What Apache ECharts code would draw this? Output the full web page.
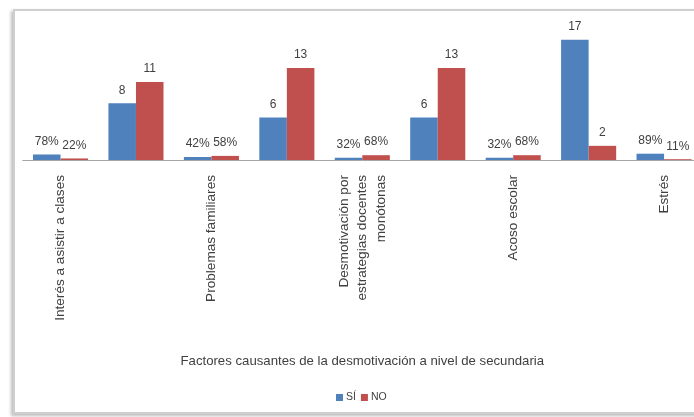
<!DOCTYPE html>
<html>
<head>
<meta charset="utf-8">
<script src="https://cdn.jsdelivr.net/npm/echarts@6/dist/echarts.min.js"></script>
<style>
html,body{margin:0;padding:0;background:#fff;width:694px;height:417px;overflow:hidden;}
#frame{position:absolute;left:13px;top:9px;width:720px;height:401px;border:2px solid #cfcfcf;box-shadow:-2px 2px 3px #bdbdbd;background:#fff;}
#chart{position:absolute;left:0;top:0;width:730px;height:417px;}
</style>
</head>
<body>
<div id="frame"></div>
<div id="chart"></div>
<script>
const categories = ['Interés a asistir a clases', ' ', 'Problemas familiares', '  ', 'Desmotivación por\nestrategias docentes\nmonótonas', '   ', 'Acoso escolar', '    ', 'Estrés'];
const siValues = [0.78, 8, 0.42, 6, 0.32, 6, 0.32, 17, 0.89];
const noValues = [0.22, 11, 0.58, 13, 0.68, 13, 0.68, 2, 0.11];
const seriesNames = ['SÍ', 'NO'];
const axisTitle = 'Factores causantes de la desmotivación a nivel de secundaria';

const fmt = p => p.value < 1 ? Math.round(p.value * 100) + '%' : String(p.value);
const labelStyle = {show: true, position: 'top', distance: 7, color: '#404040', fontSize: 12, fontFamily: 'Liberation Sans', formatter: fmt};

const chart = echarts.init(document.getElementById('chart'), null, {renderer: 'canvas'});
chart.setOption({
  backgroundColor: 'transparent',
  animation: false,
  grid: {left: 22.8, width: 679, top: 18.4, height: 141.6, containLabel: false},
  legend: {
    data: seriesNames, left: 331, top: 387, itemWidth: 7, itemHeight: 7, itemGap: 5,
    textStyle: {color: '#404040', fontSize: 10.5, fontFamily: 'Liberation Sans', padding: [0, 0, 0, -2]},
    icon: 'rect'
  },
  xAxis: {
    type: 'category', data: categories,
    name: axisTitle, nameLocation: 'middle', nameGap: 195,
    nameTextStyle: {color: '#404040', fontSize: 13.2, fontFamily: 'Liberation Sans'},
    axisLine: {lineStyle: {color: '#a6a6a6', width: 1}},
    axisTick: {show: false},
    axisLabel: {interval: 0, rotate: 90, margin: 15, color: '#404040', fontSize: 13.6, fontFamily: 'Liberation Sans', lineHeight: 18.5}
  },
  yAxis: {type: 'value', min: 0, max: 20, show: false, splitLine: {show: false}},
  series: [
    {name: seriesNames[0], type: 'bar', data: siValues, barGap: '0%', barCategoryGap: '27%', itemStyle: {color: '#4F81BD'}, label: labelStyle},
    {name: seriesNames[1], type: 'bar', data: noValues, itemStyle: {color: '#C0504D'}, label: labelStyle}
  ]
});
</script>
</body>
</html>
